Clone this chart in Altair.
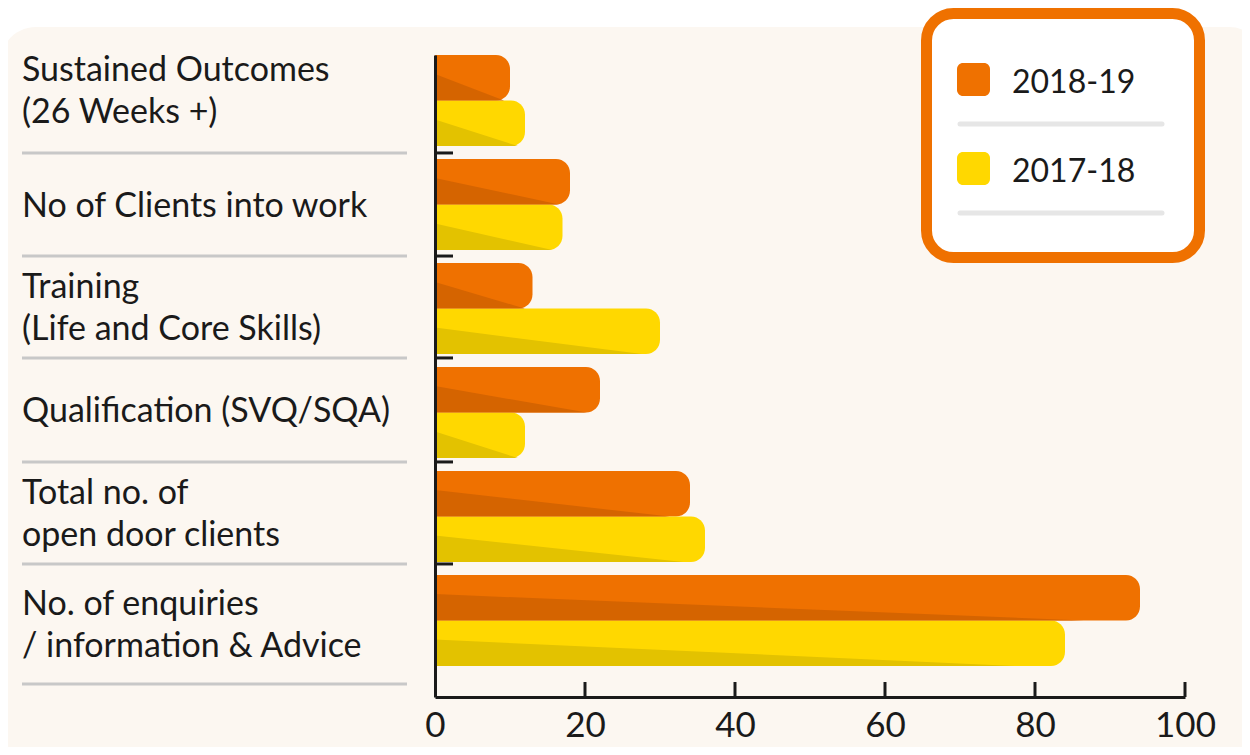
import altair as alt
import pandas as pd

# ---------------- data ----------------
categories = [
    "Sustained Outcomes\n(26 Weeks +)",
    "No of Clients into work",
    "Training\n(Life and Core Skills)",
    "Qualification (SVQ/SQA)",
    "Total no. of\nopen door clients",
    "No. of enquiries\n/ information & Advice",
]
series = ["2018-19", "2017-18"]
values_2018_19 = [10, 18, 13, 22, 34, 94]
values_2017_18 = [12, 17, 30, 12, 36, 84]
x_ticks = [0, 20, 40, 60, 80, 100]

# ---------------- style ----------------
FONT = "Lato"
INK = "#1a1a1a"
CREAM = "#FCF7F1"
bar_colors = ["#EF7100", "#FFD800"]
shade_colors = ["#D56400", "#E3C200"]
SEP_GREY = "#C8C8C8"
LEG_GREY = "#E6E6E6"

PLOT_W, PLOT_H = 750, 642
ROW_PX = 104.0
D = PLOT_H / ROW_PX          # y domain in "row" units
BAR_H = 45.5 / ROW_PX        # one bar's thickness in row units
LINE_H = 42
# separator rules (row units, measured below each group) and the top edge of the panel
seps = [0.942, 1.933, 2.913, 3.913, 4.894, 6.048]
TOP_EDGE = -0.27

X_SCALE = alt.Scale(domain=[0, 100], nice=False, zero=False)
Y_SCALE = alt.Scale(domain=[0, D], reverse=True, nice=False, zero=False)
X_AXIS = alt.Axis(values=x_ticks, ticks=False, tickSize=0, grid=False, domain=True,
                  domainColor=INK, domainWidth=3, labelFont=FONT, labelFontSize=35,
                  labelColor=INK, labelPadding=11, title=None, zindex=2, labelFlush=False)
Y_AXIS = alt.Axis(ticks=False, tickSize=0, labels=False, grid=False, domain=True,
                  domainColor=INK, domainWidth=3, title=None, zindex=2)

# ---------------- derived tables ----------------
value_lists = [values_2018_19, values_2017_18]
bar_rows, shade_rows = [], []
for i, cat in enumerate(categories):
    for s, name in enumerate(series):
        v = value_lists[s][i]
        top = i + s * BAR_H
        bottom = top + BAR_H
        bid = f"{i}-{s}"
        bar_rows.append(dict(cat=cat, series=name, value=v, start=0, top=top, bottom=bottom, bar=bid))
        shade_rows.append(dict(bar=bid, series=name, x=0, y=top + 0.42 * BAR_H, y2=bottom))
        shade_rows.append(dict(bar=bid, series=name, x=0.92 * v, y=bottom, y2=bottom))
bars_df = pd.DataFrame(bar_rows)
shade_df = pd.DataFrame(shade_rows)

edges = [TOP_EDGE] + seps
label_y = []
for i, cat in enumerate(categories):
    n_lines = cat.count("\n") + 1
    centre = (edges[i] + edges[i + 1]) / 2
    label_y.append(centre + (2 - (n_lines - 1) * LINE_H / 2) / ROW_PX)
label_df = pd.DataFrame({"cat": categories, "yc": label_y})
sep_df = pd.DataFrame({"y": seps})
ytick_df = pd.DataFrame({"y": seps[:-1]})
xtick_df = pd.DataFrame({"x": x_ticks[1:]})
base = pd.DataFrame({"k": [0]})

# ---------------- layers ----------------
bg = alt.Chart(base).mark_rect(color=CREAM, cornerRadius=36).encode(
    x=alt.value(-435), x2=alt.value(830), y=alt.value(-28), y2=alt.value(740))

sep_layer = alt.Chart(sep_df).mark_rule(color=SEP_GREY, strokeWidth=3).encode(
    x=alt.value(-413), x2=alt.value(-28),
    y=alt.Y("y:Q", scale=Y_SCALE, axis=Y_AXIS))

labels = alt.Chart(label_df).mark_text(
    align="left", baseline="middle", lineBreak="\n", lineHeight=LINE_H,
    font=FONT, fontSize=34, color=INK).encode(
    x=alt.value(-413),
    y=alt.Y("yc:Q", scale=Y_SCALE, axis=Y_AXIS),
    text="cat:N")

bars = alt.Chart(bars_df).mark_rect(cornerRadiusTopRight=14, cornerRadiusBottomRight=14).encode(
    x=alt.X("start:Q", scale=X_SCALE, axis=X_AXIS),
    x2="value:Q",
    y=alt.Y("top:Q", scale=Y_SCALE, axis=Y_AXIS),
    y2="bottom:Q",
    color=alt.Color("series:N", scale=alt.Scale(domain=series, range=bar_colors), legend=None))

shade = alt.Chart(shade_df).mark_area(orient="vertical", opacity=1).encode(
    x=alt.X("x:Q", scale=X_SCALE, axis=X_AXIS),
    y=alt.Y("y:Q", scale=Y_SCALE, axis=Y_AXIS),
    y2="y2:Q",
    detail="bar:N",
    fill=alt.Fill("series:N", scale=alt.Scale(domain=series, range=shade_colors), legend=None))

yticks = alt.Chart(ytick_df).mark_rule(color=INK, strokeWidth=3).encode(
    x=alt.value(0), x2=alt.value(18),
    y=alt.Y("y:Q", scale=Y_SCALE, axis=Y_AXIS))

xticks = alt.Chart(xtick_df).mark_rule(color=INK, strokeWidth=3).encode(
    x=alt.X("x:Q", scale=X_SCALE, axis=X_AXIS),
    y=alt.value(PLOT_H), y2=alt.value(PLOT_H - 15))

leg_box = alt.Chart(base).mark_rect(fill="white", stroke=bar_colors[0], strokeWidth=11, cornerRadius=27).encode(
    x=alt.value(491.5), x2=alt.value(764.5), y=alt.value(-41.5), y2=alt.value(202.5))

legend_layers = []
for k, (name, col) in enumerate(zip(series, bar_colors)):
    dy = 89 * k
    legend_layers.append(alt.Chart(base).mark_rect(color=col, cornerRadius=6).encode(
        x=alt.value(522), x2=alt.value(555), y=alt.value(8 + dy), y2=alt.value(41 + dy)))
    legend_layers.append(alt.Chart(pd.DataFrame({"t": [name]})).mark_text(
        align="left", baseline="alphabetic", font=FONT, fontSize=32, color=INK).encode(
        x=alt.value(577), y=alt.value(38 + dy), text="t:N"))
    legend_layers.append(alt.Chart(base).mark_rule(color=LEG_GREY, strokeWidth=5, strokeCap="round").encode(
        x=alt.value(525), x2=alt.value(727), y=alt.value(69 + dy)))

chart = alt.layer(bg, sep_layer, labels, bars, shade, yticks, xticks, leg_box, *legend_layers).properties(
    width=PLOT_W, height=PLOT_H, background="white",
    padding={"left": 427, "top": 47, "right": 57, "bottom": 50},
    autosize=alt.AutoSizeParams(type="none"),
).configure_view(stroke=None)

chart.save("out.html", embed_options={"renderer": "svg", "actions": False})
